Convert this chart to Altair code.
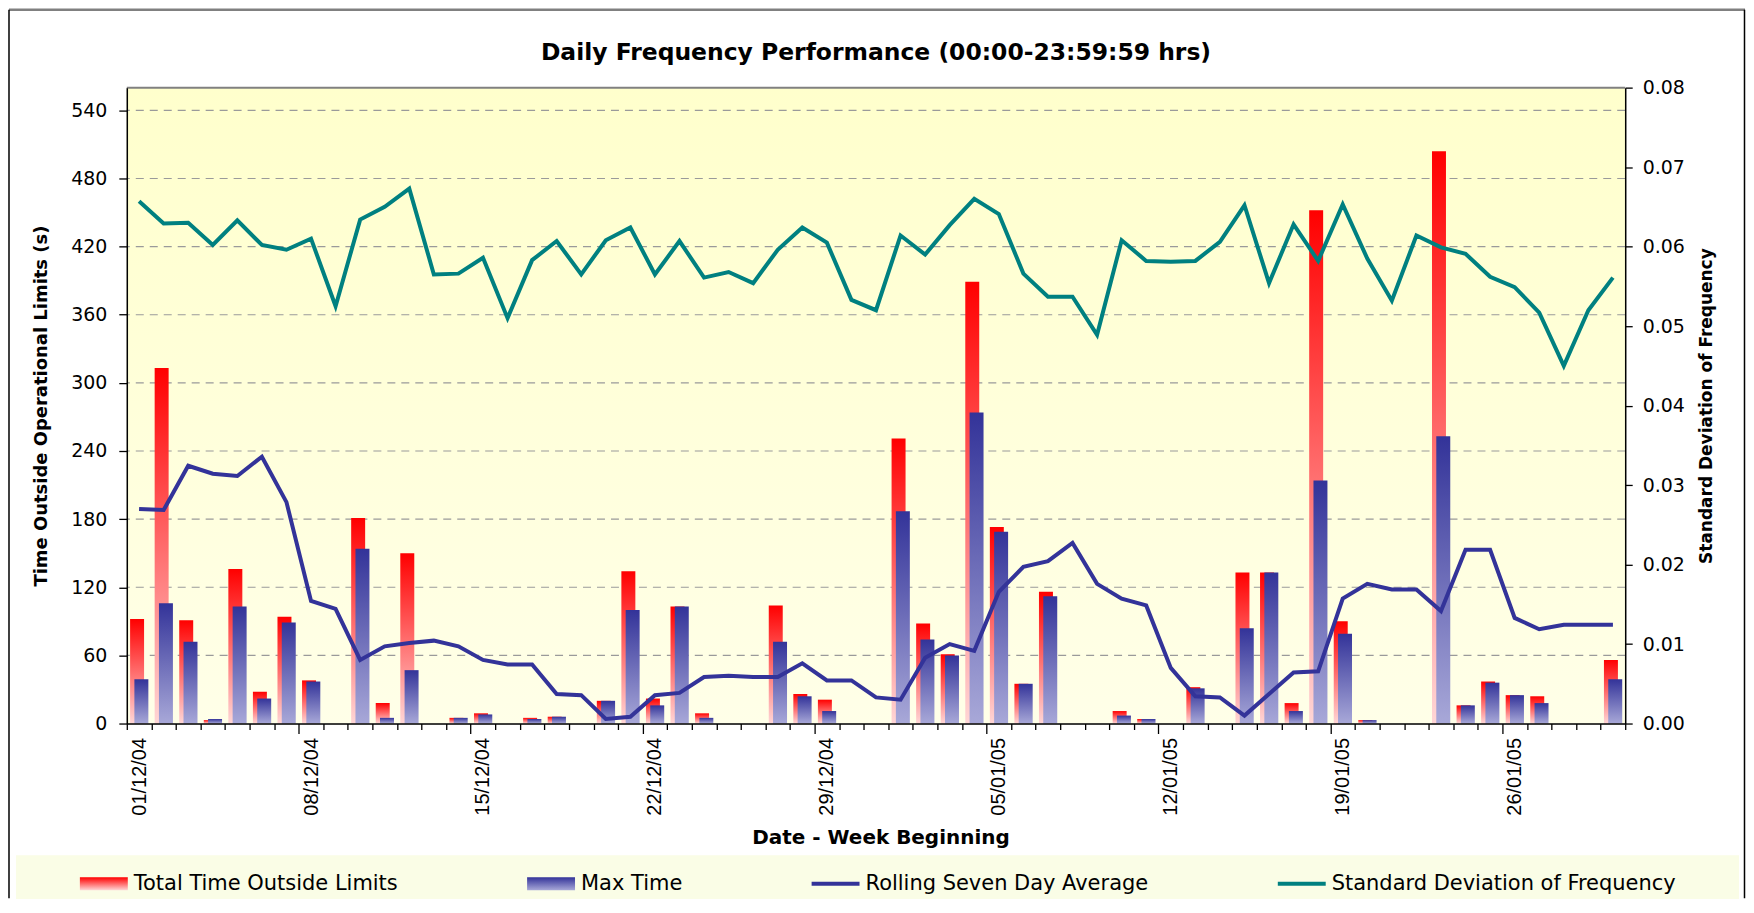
import json
import pandas as pd
import altair as alt

# ---------------- data ----------------
dates = [d.strftime("%d/%m/%y") for d in pd.date_range("2004-12-01", "2005-01-30", freq="D")]
week_labels = ["01/12/04", "08/12/04", "15/12/04", "22/12/04", "29/12/04",
               "05/01/05", "12/01/05", "19/01/05", "26/01/05"]

total_time = [92, 313, 91, 3, 136, 28, 94, 38, 0, 181, 18, 150, 0, 5, 9, 0, 5, 6, 0, 20,
              134, 22, 103, 9, 0, 0, 104, 26, 21, 0, 0, 251, 88, 61, 389, 173, 35, 116, 0, 0,
              11, 4, 0, 32, 0, 133, 133, 18, 452, 90, 3, 0, 0, 504, 16, 37, 25, 24, 0, 0, 56]
max_time = [39, 106, 72, 4, 103, 22, 89, 37, 0, 154, 5, 47, 0, 5, 8, 0, 4, 6, 0, 20,
            100, 16, 103, 5, 0, 0, 72, 24, 11, 0, 0, 187, 74, 60, 274, 169, 35, 112, 0, 0,
            7, 4, 0, 31, 0, 84, 133, 11, 214, 79, 3, 0, 0, 253, 16, 36, 25, 18, 0, 0, 39]
rolling_avg = [189, 188, 227, 220, 218, 235, 195, 108, 101, 56, 68, 71, 73, 68, 56, 52, 52, 26, 25, 4,
               6, 25, 27, 41, 42, 41, 41, 53, 38, 38, 23, 21, 58, 70, 64, 116, 138, 143, 159, 123,
               110, 104, 49, 24, 23, 7, 26, 45, 46, 110, 123, 118, 118, 99, 153, 153, 93, 83, 87, 87, 87]
std_freq = [0.0657, 0.0629, 0.0630, 0.0602, 0.0633, 0.0602, 0.0596, 0.0610, 0.0525, 0.0634,
            0.0650, 0.0673, 0.0565, 0.0566, 0.0586, 0.0510, 0.0583, 0.0607, 0.0565, 0.0608,
            0.0624, 0.0565, 0.0607, 0.0561, 0.0568, 0.0554, 0.0596, 0.0624, 0.0605, 0.0533,
            0.0520, 0.0614, 0.0590, 0.0627, 0.0660, 0.0641, 0.0566, 0.0537, 0.0537, 0.0489,
            0.0608, 0.0582, 0.0581, 0.0582, 0.0606, 0.0652, 0.0554, 0.0628, 0.0582, 0.0653,
            0.0585, 0.0532, 0.0614, 0.0599, 0.0591, 0.0562, 0.0549, 0.0517, 0.0450, 0.0520, 0.0561]

series_names = ["Total Time Outside Limits", "Max Time",
                "Rolling Seven Day Average", "Standard Deviation of Frequency"]
left_ticks = [0, 60, 120, 180, 240, 300, 360, 420, 480, 540]
right_ticks = [0.0, 0.01, 0.02, 0.03, 0.04, 0.05, 0.06, 0.07, 0.08]

df = pd.DataFrame({"date": dates, "total": total_time, "max_time": max_time,
                   "rolling": rolling_avg, "std": std_freq})
grid_df = pd.DataFrame({"g": left_ticks[1:]})
one = pd.DataFrame({"k": [0]})

# ---------------- layout / style ----------------
W, H = 1501, 637
FONT = "DejaVu Sans"
RED, NAVY, TEAL = "#ff0000", "#333399", "#008080"


def vgrad(c0, c1):
    return alt.LinearGradient(gradient="linear",
                              stops=[alt.GradientStop(color=c0, offset=0),
                                     alt.GradientStop(color=c1, offset=1)],
                              x1=0, x2=0, y1=0, y2=1)


red_grad = vgrad(RED, "#ffd6d6")
blue_grad = vgrad(NAVY, "#a8a8d8")
bg_grad = vgrad("#ffffcc", "#ffffe8")

label_expr = "indexof(" + json.dumps(week_labels) + ", datum.value) >= 0 ? datum.value : ''"
# band-edge ticks sit at the end of each day's band: the long ones end the day before a week label
week_edges = [dates[dates.index(w) - 1] for w in week_labels if dates.index(w) > 0]
edge_test = "indexof(" + json.dumps(week_edges) + ", datum.value) >= 0"

x_axis = alt.Axis(labelExpr=label_expr, labelAngle=-90, labelFont="Liberation Sans",
                  labelFontSize=20, labelColor="black", labelPadding=8, labelOverlap=False,
                  tickBand="extent",
                  tickSize={"condition": {"test": edge_test, "value": 10}, "value": 6},
                  tickColor="black", tickWidth=1.3,
                  domainColor="black", domainWidth=1.5, grid=False, zindex=1,
                  titleFont=FONT, titleFontSize=20, titleFontWeight="bold", titleColor="black",
                  titleX=755, titleY=104, titleAlign="center", titleBaseline="top")
x_enc = alt.X("date:N", sort=None, title="Date - Week Beginning",
              scale=alt.Scale(paddingInner=0, paddingOuter=0), axis=x_axis)

left_title = "Time Outside Operational Limits (s)"
left_scale = alt.Scale(domain=[0, 560], nice=False)
left_axis = alt.Axis(orient="left", values=left_ticks, grid=False, tickSize=8, tickColor="black",
                     tickWidth=1.3, labelFont=FONT, labelFontSize=19, labelColor="black",
                     labelPadding=12, domainColor="black", domainWidth=1.5, zindex=1,
                     titleFont=FONT, titleFontSize=18, titleFontWeight="bold", titleColor="black",
                     titleAngle=-90, titleX=-76, titleY=H / 2, titleAlign="center",
                     titleBaseline="bottom")


def left_y(field):
    return alt.Y(field, title=left_title, scale=left_scale, axis=left_axis)


right_axis = alt.Axis(orient="right", values=right_ticks, format=".2f", grid=False, tickSize=7,
                      tickColor="black", tickWidth=1.3, labelFont=FONT, labelFontSize=19,
                      labelColor="black", labelPadding=10, domainColor="black", domainWidth=1.5,
                      zindex=1, titleFont=FONT, titleFontSize=17, titleFontWeight="bold",
                      titleColor="black", titleAngle=-90, titleX=90, titleY=H / 2,
                      titleAlign="center", titleBaseline="bottom")

shape_expr = ("datum.value == 'Total Time Outside Limits' || datum.value == 'Max Time'"
              " ? 'M-1,-0.27H1V0.27H-1Z' : 'M-1,-0.085H1V0.085H-1Z'")
fill_expr = ("datum.value == 'Total Time Outside Limits' ? "
             "{gradient: 'linear', x1: 0, y1: 0, x2: 0, y2: 1, stops: [{offset: 0, color: '#ff0000'}, {offset: 1, color: '#ffd6d6'}]}"
             " : datum.value == 'Max Time' ? "
             "{gradient: 'linear', x1: 0, y1: 0, x2: 0, y2: 1, stops: [{offset: 0, color: '#333399'}, {offset: 1, color: '#a8a8d8'}]}"
             " : datum.value == 'Rolling Seven Day Average' ? '#333399' : '#008080'")

legend = alt.Legend(title=None, orient="none", legendX=-47, legendY=773.5, direction="horizontal",
                    columns=4, columnPadding=129, gridAlign="each", symbolSize=2304,
                    symbolType=alt.ExprRef(expr=shape_expr),
                    symbolFillColor=alt.ExprRef(expr=fill_expr),
                    symbolStrokeWidth=0, symbolOpacity=1,
                    labelFont=FONT, labelFontSize=21, labelColor="black", labelOffset=6,
                    labelLimit=600, padding=0)
color_enc = alt.Color("series:N",
                      scale=alt.Scale(domain=series_names, range=[RED, NAVY, NAVY, TEAL]),
                      legend=legend)

base = alt.Chart(df)

bg = alt.Chart(one).mark_rect(color=bg_grad).encode(
    x=alt.value(0), x2=alt.value(W), y=alt.value(0), y2=alt.value(H))
grid = alt.Chart(grid_df).mark_rule(color="#9a9a9a", strokeWidth=1.2, strokeDash=[8, 6]).encode(
    y=left_y("g:Q"))
red_bars = base.mark_bar(width=14, xOffset=-2, color=red_grad).encode(
    x=x_enc, y=left_y("total:Q"))
blue_bars = base.mark_bar(width=14, xOffset=2.3, color=blue_grad).encode(
    x=x_enc, y=left_y("max_time:Q"))
rolling_line = base.transform_calculate(series="'Rolling Seven Day Average'").mark_line(
    strokeWidth=4).encode(x=x_enc, y=left_y("rolling:Q"), color=color_enc)

left_layer = alt.layer(bg, grid, red_bars, blue_bars, rolling_line)

std_line = base.transform_calculate(series="'Standard Deviation of Frequency'").mark_line(
    strokeWidth=4).encode(
    x=x_enc,
    y=alt.Y("std:Q", title="Standard Deviation of Frequency",
            scale=alt.Scale(domain=[0, 0.08], nice=False), axis=right_axis),
    color=color_enc)

deco = alt.Chart(one)
legend_bg = deco.mark_rect(color="#fafde6").encode(
    x=alt.value(-111), x2=alt.value(1615), y=alt.value(769), y2=alt.value(820))
top_border = deco.mark_rule(color="#808080", strokeWidth=2).encode(
    x=alt.value(0), x2=alt.value(W), y=alt.value(0))
frame_top = deco.mark_rule(color="#808080", strokeWidth=2.5).encode(
    x=alt.value(-118), x2=alt.value(1621), y=alt.value(-78))
frame_left = deco.mark_rule(color="black", strokeWidth=1.5).encode(
    x=alt.value(-118), y=alt.value(-78), y2=alt.value(812))
frame_right = deco.mark_rule(color="black", strokeWidth=1.5).encode(
    x=alt.value(1620.5), y=alt.value(-78), y2=alt.value(812))

chart = alt.layer(
    legend_bg, frame_top, frame_left, frame_right,
    left_layer, std_line, top_border
).resolve_scale(y="independent").properties(
    width=W, height=H,
    title=alt.TitleParams("Daily Frequency Performance (00:00-23:59:59 hrs)", font=FONT,
                          fontSize=23.5, fontWeight="bold", color="black", anchor="middle",
                          frame="group", offset=-80, baseline="bottom"),
    autosize=alt.AutoSizeParams(type="none"),
    padding={"left": 119, "top": 79, "right": 121, "bottom": 175},
    background="white",
).configure_view(stroke=None).configure(font=FONT)

chart.save("out.html", embed_options={"renderer": "svg", "actions": False})
